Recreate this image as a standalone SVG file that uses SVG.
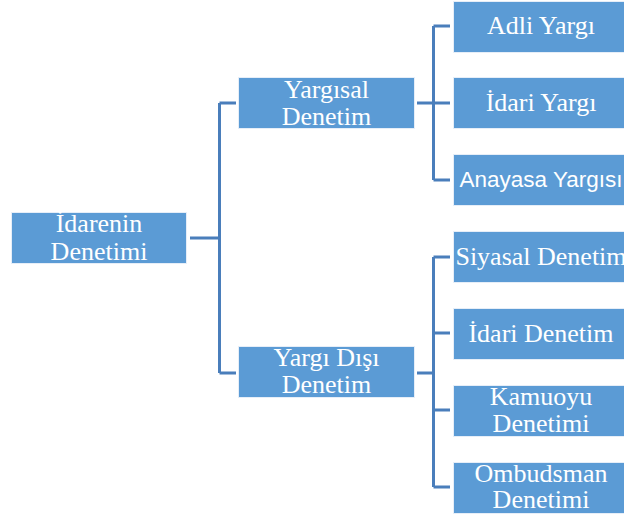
<svg xmlns="http://www.w3.org/2000/svg" width="624" height="517" viewBox="0 0 624 517">
<style>
.box{fill:#5b9bd5;stroke:#e6eef8;stroke-width:1}
.t{font-family:"Liberation Serif","Times New Roman",serif;font-size:26px;fill:#ffffff;text-anchor:middle}
.s{font-family:"Liberation Sans",Arial,sans-serif;font-size:22.5px;fill:#ffffff;text-anchor:middle}
.c{fill:none;stroke:#4a7ebb;stroke-width:3}
</style>
<rect width="624" height="517" fill="#ffffff"/>
<g id="connectors">
<path class="c" d="M190 238H219.5M219.5 103V373M219.5 103H236M219.5 373H236"/>
<path class="c" d="M417 103H433.5M433.5 26V180M433.5 26H450M433.5 103H450M433.5 180H450"/>
<path class="c" d="M417 373H433.5M433.5 257V487M433.5 257H450M433.5 333H450M433.5 410H450M433.5 487H450"/>
</g>
<g id="n-root"><rect class="box" x="11.5" y="212.5" width="175" height="51"/><text class="t" x="99" y="232">İdarenin</text><text class="t" x="99" y="260">Denetimi</text></g>
<g id="n-yargisal"><rect class="box" x="238.5" y="77.5" width="176" height="51"/><text class="t" x="326.5" y="98">Yargısal</text><text class="t" x="326.5" y="125">Denetim</text></g>
<g id="n-yargidisi"><rect class="box" x="238.5" y="346.5" width="176" height="51"/><text class="t" x="326.5" y="366">Yargı Dışı</text><text class="t" x="326.5" y="393">Denetim</text></g>
<g id="n-adli"><rect class="box" x="453.5" y="1.5" width="176" height="51"/><text class="t" x="541" y="34">Adli Yargı</text></g>
<g id="n-idariyargi"><rect class="box" x="453.5" y="77.5" width="176" height="51"/><text class="t" x="541" y="111">İdari Yargı</text></g>
<g id="n-anayasa"><rect class="box" x="453.5" y="154.5" width="176" height="51"/><text class="s" x="541" y="187">Anayasa Yargısı</text></g>
<g id="n-siyasal"><rect class="box" x="453.5" y="231.5" width="176" height="51"/><text class="t" x="541" y="265">Siyasal Denetim</text></g>
<g id="n-idaridenetim"><rect class="box" x="453.5" y="308.5" width="176" height="51"/><text class="t" x="541" y="342">İdari Denetim</text></g>
<g id="n-kamuoyu"><rect class="box" x="453.5" y="385.5" width="176" height="51"/><text class="t" x="541" y="405">Kamuoyu</text><text class="t" x="541" y="432">Denetimi</text></g>
<g id="n-ombudsman"><rect class="box" x="453.5" y="462.5" width="176" height="51"/><text class="t" x="541" y="482">Ombudsman</text><text class="t" x="541" y="508">Denetimi</text></g>
</svg>
